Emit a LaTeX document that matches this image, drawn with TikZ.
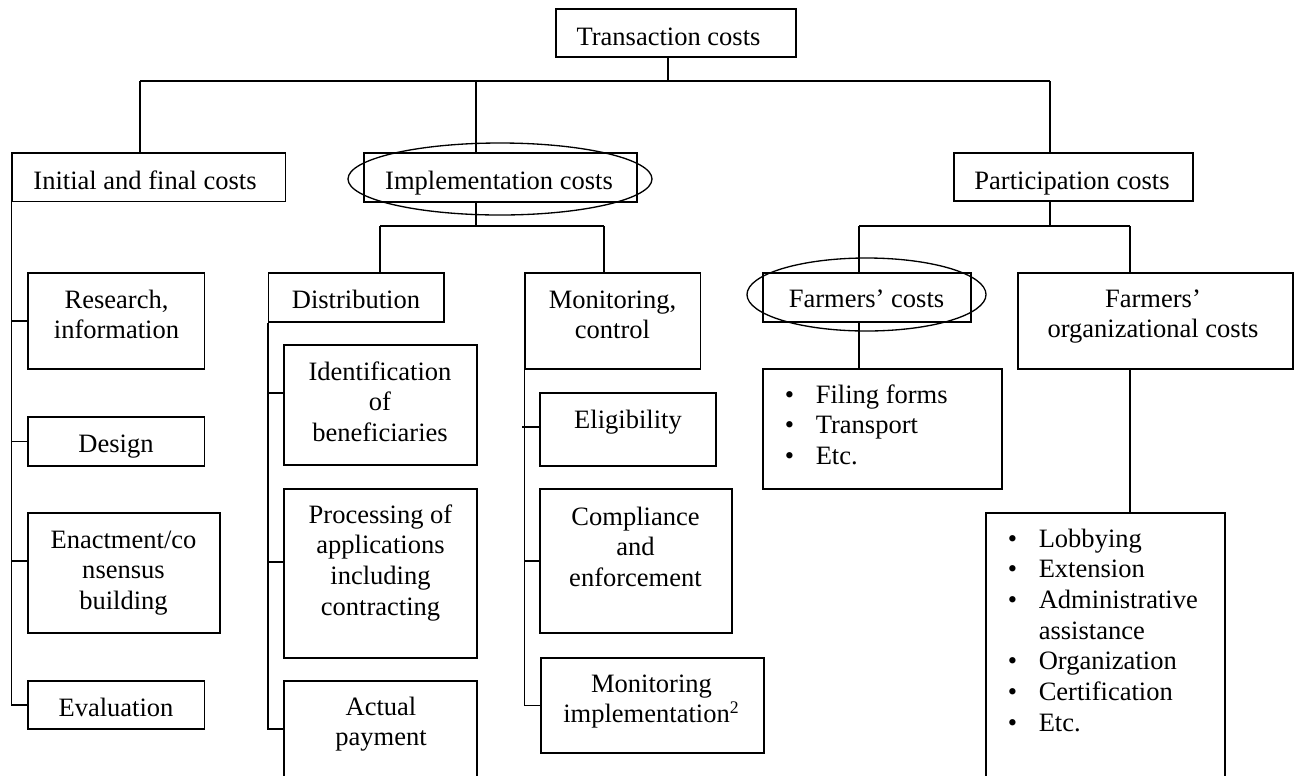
\documentclass[tikz,border=0pt]{standalone}
\usepackage{fontspec}
\setmainfont{Liberation Serif}
\usetikzlibrary{shapes.geometric}
\newcommand\mkbox[5]{\node[box, minimum width={(#4-#2)*0.4525pt}, minimum height={(#5-#3)*0.4525pt}] (#1) at ({(#2+#4)/2},{(#3+#5)/2}) {};}
\newcommand\txt[4]{\node[lbl] (#1) at (#2,#3) {\begin{tabular}[t]{@{}c@{}}#4\end{tabular}};}
\newcommand\blist[4]{\node[lbl, anchor=base west] (#1) at (#2,#3) {\begin{tabular}[t]{@{}l@{}l@{}}#4\end{tabular}};}
\newcommand\bu{\makebox[14pt][l]{\textbullet}}
\tikzset{
  box/.style={draw, line width=0.6pt, rectangle, inner sep=0pt},
  oval/.style={draw, line width=0.6pt, ellipse, inner sep=0pt},
  lbl/.style={inner sep=0pt, anchor=base, font=\fontsize{12}{13.9}\selectfont},
  link/.style={line width=0.6pt}
}
\begin{document}
\begin{tikzpicture}[x=0.4525pt, y={(0pt,-0.4525pt)}]
\useasboundingbox (0,0) rectangle (1294,775);
\clip (0,0) rectangle (1294,775);
% boxes
\mkbox{trans}{556}{9}{796}{57}
\mkbox{init}{12}{153}{285.5}{201.5}
\mkbox{impl}{364}{153}{637}{202}
\mkbox{part}{954}{153}{1193}{201}
\mkbox{res}{28}{273}{204.5}{369}
\mkbox{des}{28}{417}{204.5}{466}
\mkbox{ena}{28}{513}{220}{633}
\mkbox{eva}{28}{681}{204.5}{729}
\mkbox{dist}{268.5}{273}{444}{322}
\mkbox{ident}{284}{345}{477}{465}
\mkbox{proc}{284}{489}{477}{658}
\mkbox{act}{284}{681}{477}{800}
\mkbox{mon}{525}{273}{700.6}{369}
\mkbox{elig}{540}{393}{716}{466}
\mkbox{comp}{540}{489}{732}{633}
\mkbox{mimp}{541}{658}{764}{753}
\mkbox{farm}{763}{273}{971}{322}
\mkbox{lst1}{763}{369}{1002}{489}
\mkbox{forg}{1018}{273}{1293}{369}
\mkbox{lst2}{986}{513}{1225}{800}
% ovals
\node[oval, minimum width={304*0.4525pt}, minimum height={72*0.4525pt}] (ov1) at (500,179) {};
\node[oval, minimum width={239*0.4525pt}, minimum height={73*0.4525pt}] (ov2) at (866.5,294.5) {};
% texts
\txt{t-trans}{668.5}{45}{Transaction costs}
\txt{t-init}{145}{189}{Initial and final costs}
\txt{t-impl}{499}{189}{Implementation costs}
\txt{t-part}{1072}{189}{Participation costs}
\txt{t-res}{116.5}{308}{Research,\\information}
\txt{t-des}{116}{452}{Design}
\txt{t-ena}{123.5}{548}{Enactment/co\\nsensus\\building}
\txt{t-eva}{116}{716}{Evaluation}
\txt{t-dist}{356}{308}{Distribution}
\txt{t-ident}{380}{380}{Identification\\of\\beneficiaries}
\txt{t-proc}{380.5}{523}{Processing of\\applications\\including\\contracting}
\txt{t-act}{381}{715}{Actual\\payment}
\txt{t-mon}{612.5}{308}{Monitoring,\\control}
\txt{t-elig}{628}{428}{Eligibility}
\txt{t-comp}{635.5}{525}{Compliance\\and\\enforcement}
\txt{t-mimp}{651.5}{692}{Monitoring\\implementation\textsuperscript{2}}
\txt{t-farm}{866.5}{307}{Farmers’ costs}
\txt{t-forg}{1153}{307}{Farmers’\\organizational costs}
\blist{t-lst1}{784.4}{403}{\bu&Filing forms\\\bu&Transport\\\bu&Etc.}
\blist{t-lst2}{1007.4}{547}{\bu&Lobbying\\\bu&Extension\\\bu&Administrative\\&assistance\\\bu&Organization\\\bu&Certification\\\bu&Etc.}
% coordinates
\coordinate (bT) at (668,81);
\coordinate (bI) at (140,81);
\coordinate (bM) at (476,81);
\coordinate (bP) at (1050,81);
\coordinate (sM) at (476,226);
\coordinate (sD) at (380,226);
\coordinate (sC) at (604,226);
\coordinate (sP) at (1050,226);
\coordinate (sF) at (859,226);
\coordinate (sO) at (1130,226);
\coordinate (yEna) at (0,561);
\coordinate (yIdent) at (0,393);
\coordinate (yProc) at (0,562);
\coordinate (yAct) at (0,729);
\coordinate (eTick) at (522,427);
% top level
\draw[link] (trans.south -| bT) -- (bT);
\draw[link] (bI) -- (bP);
\draw[link] (bI) -- (init.north -| bI);
\draw[link] (bM) -- (impl.north -| bM);
\draw[link] (bP) -- (part.north -| bP);
% initial and final costs
\draw[link] (init.south west) |- (eva.west);
\draw[link] (init.south west |- res.west) -- (res.west);
\draw[link] (init.south west |- des.west) -- (des.west);
\draw[link] (init.south west |- yEna) -- (ena.west |- yEna);
% implementation
\draw[link] (impl.south -| sM) -- (sM);
\draw[link] (sD) -- (sC);
\draw[link] (sD) -- (dist.north -| sD);
\draw[link] (sC) -- (mon.north -| sC);
\draw[link] (dist.south west) |- (act.west |- yAct);
\draw[link] (dist.south west |- yIdent) -- (ident.west |- yIdent);
\draw[link] (dist.south west |- yProc) -- (proc.west |- yProc);
\draw[link] (mon.south west) |- (mimp.west);
\draw[link] (eTick) -- (elig.west |- eTick);
\draw[link] (mon.south west |- comp.west) -- (comp.west);
% participation
\draw[link] (part.south -| sP) -- (sP);
\draw[link] (sF) -- (sO);
\draw[link] (sF) -- (farm.north -| sF);
\draw[link] (sO) -- (forg.north -| sO);
\draw[link] (farm.south -| sF) -- (lst1.north -| sF);
\draw[link] (forg.south -| sO) -- (lst2.north -| sO);
\end{tikzpicture}
\end{document}
